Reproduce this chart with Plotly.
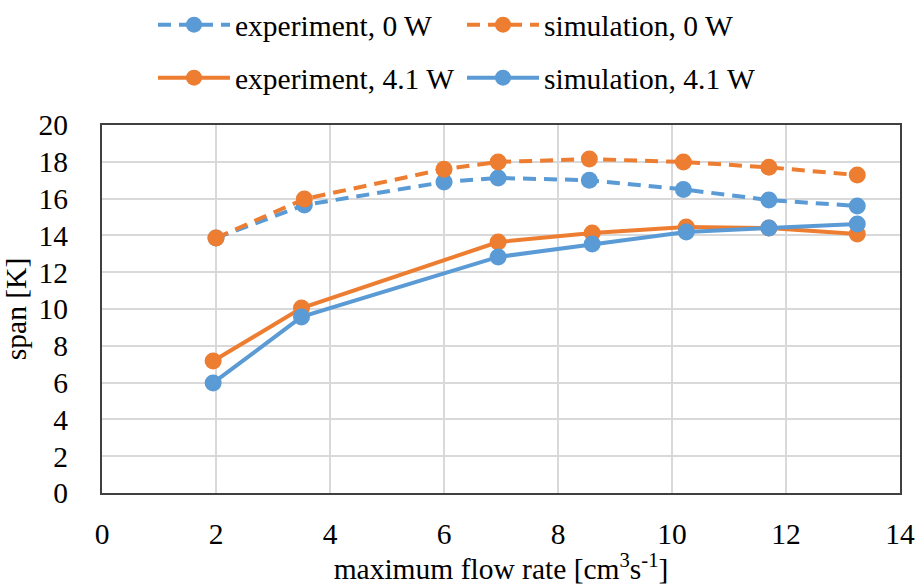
import plotly.graph_objects as go

# Data
x_zero = [2.0, 3.55, 6.0, 6.95, 8.55, 10.2, 11.7, 13.25]
exp_0w = [13.86, 15.65, 16.9, 17.12, 17.0, 16.5, 15.92, 15.6]
sim_0w = [13.86, 15.98, 17.6, 17.99, 18.15, 17.99, 17.7, 17.28]

x_heat = [1.95, 3.5, 6.95, 8.6, 10.25, 11.7, 13.25]
exp_41w = [7.17, 10.05, 13.64, 14.13, 14.46, 14.4, 14.08]
sim_41w = [5.98, 9.57, 12.83, 13.53, 14.18, 14.4, 14.62]

x_ticks = [0, 2, 4, 6, 8, 10, 12, 14]
y_ticks = [0, 2, 4, 6, 8, 10, 12, 14, 16, 18, 20]

BLUE = "#5B9BD5"
ORANGE = "#ED7D31"
FONT = "Liberation Serif"
FS = 29.5
DASH = "13px,8px"
LW = 4
MS = 17

fig = go.Figure()
fig.add_trace(go.Scatter(x=x_zero, y=exp_0w, name="experiment, 0 W", mode="lines+markers",
                         line=dict(color=BLUE, width=LW, dash=DASH),
                         marker=dict(color=BLUE, size=MS), legend="legend"))
fig.add_trace(go.Scatter(x=x_zero, y=sim_0w, name="simulation, 0 W", mode="lines+markers",
                         line=dict(color=ORANGE, width=LW, dash=DASH),
                         marker=dict(color=ORANGE, size=MS), legend="legend"))
fig.add_trace(go.Scatter(x=x_heat, y=exp_41w, name="experiment, 4.1 W", mode="lines+markers",
                         line=dict(color=ORANGE, width=LW),
                         marker=dict(color=ORANGE, size=MS), legend="legend2"))
fig.add_trace(go.Scatter(x=x_heat, y=sim_41w, name="simulation, 4.1 W", mode="lines+markers",
                         line=dict(color=BLUE, width=LW),
                         marker=dict(color=BLUE, size=MS), legend="legend2"))

legend_common = dict(orientation="h", xref="paper", yref="paper", xanchor="left",
                     yanchor="middle", itemwidth=72, entrywidth=222, entrywidthmode="pixels",
                     font=dict(family=FONT, size=FS, color="#000000"),
                     bgcolor="rgba(0,0,0,0)", borderwidth=0, tracegroupgap=0,
                     itemclick=False, itemdoubleclick=False)

fig.update_layout(
    width=919, height=585,
    margin=dict(l=102, r=19, t=125, b=92, autoexpand=False),
    paper_bgcolor="white", plot_bgcolor="white",
    font=dict(family=FONT, size=FS, color="#000000"),
    legend=dict(x=(153 - 102) / 798, y=(493 - 25) / 368, **legend_common),
    legend2=dict(x=(153 - 102) / 798, y=(493 - 78) / 368, **legend_common),
    xaxis=dict(range=[0, 14], tickvals=x_ticks, ticktext=[str(v) for v in x_ticks],
               showgrid=True, gridcolor="#D9D9D9", gridwidth=1.5,
               showline=True, linecolor="#404040", linewidth=2, mirror=True,
               zeroline=False, ticks="", ticklabelstandoff=14,
               tickfont=dict(family=FONT, size=FS, color="#000000"),
               title=dict(text="maximum flow rate [cm<sup>3</sup>s<sup>-1</sup>]",
                          font=dict(family=FONT, size=FS, color="#000000"), standoff=14)),
    yaxis=dict(range=[0, 20], tickvals=y_ticks, ticktext=[str(v) for v in y_ticks],
               showgrid=True, gridcolor="#D9D9D9", gridwidth=1.5,
               showline=True, linecolor="#404040", linewidth=2, mirror=True,
               zeroline=False, ticks="", ticklabelstandoff=26,
               tickfont=dict(family=FONT, size=FS, color="#000000"),
               title=dict(text="span [K]",
                          font=dict(family=FONT, size=FS, color="#000000"), standoff=10)),
)

fig.write_html("out.html")
